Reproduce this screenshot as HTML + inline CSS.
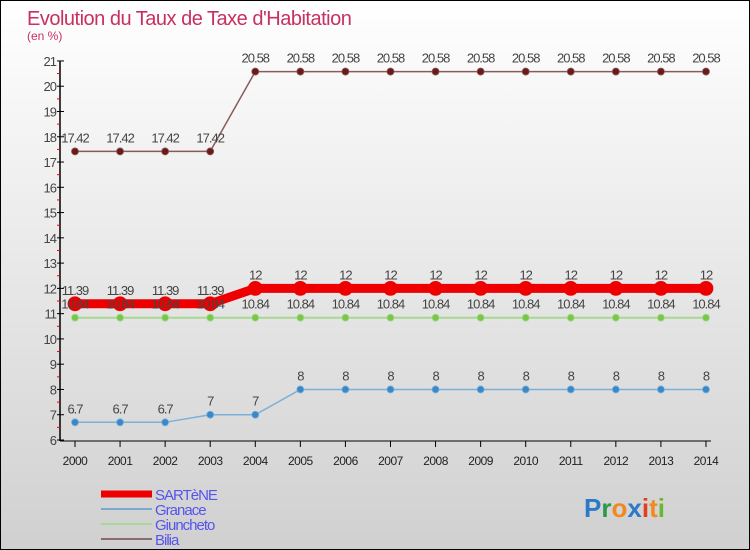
<!DOCTYPE html>
<html><head><meta charset="utf-8"><style>
html,body{margin:0;padding:0}
body{width:750px;height:550px;overflow:hidden;font-family:"Liberation Sans","DejaVu Sans",sans-serif}
#wrap{position:relative;width:748px;height:548px;border:1px solid #000;background:linear-gradient(#ffffff,#d0d0d0)}
</style></head><body>
<div id="wrap">
<svg id="chart" width="748" height="548" style="position:absolute;left:0;top:0"></svg>
</div>
<script>
const years=["2000","2001","2002","2003","2004","2005","2006","2007","2008","2009","2010","2011","2012","2013","2014"];
const sartene=[11.39,11.39,11.39,11.39,12,12,12,12,12,12,12,12,12,12,12];
const granace=[6.7,6.7,6.7,7,7,8,8,8,8,8,8,8,8,8,8];
const giuncheto=[10.84,10.84,10.84,10.84,10.84,10.84,10.84,10.84,10.84,10.84,10.84,10.84,10.84,10.84,10.84];
const bilia=[17.42,17.42,17.42,17.42,20.58,20.58,20.58,20.58,20.58,20.58,20.58,20.58,20.58,20.58,20.58];
const yTicks=[6,7,8,9,10,11,12,13,14,15,16,17,18,19,20,21];
const labels=["11.39","11.39","11.39","11.39","12","12","12","12","12","12","12","12","12","12","12"];
const NS="http://www.w3.org/2000/svg";
const svg=document.getElementById('chart');
function x(i){return 74+i*45.07;}
function y(v){return 439-(v-6)*25.27;}
function el(t,a,p){const e=document.createElementNS(NS,t);for(const k in a)e.setAttribute(k,a[k]);(p||svg).appendChild(e);return e;}
function txt(s,a){const e=el('text',a);e.textContent=s;return e;}
let t=txt("Evolution du Taux de Taxe d'Habitation",{x:26,y:24,'font-size':20,fill:'#c8305f','letter-spacing':'-0.5'});

t=txt("(en %)",{x:26,y:39,'font-size':12,fill:'#c8305f'});

let a=el('line',{x1:59,y1:60,x2:59,y2:440,stroke:'#000','stroke-width':1.5});

a=el('line',{x1:59,y1:440,x2:710,y2:440,stroke:'#000','stroke-width':1});

yTicks.forEach(v=>{
 el('line',{x1:56,y1:y(v),x2:63,y2:y(v),stroke:'#000'});
 if(v<21)el('line',{x1:56,y1:y(v+0.5),x2:59,y2:y(v+0.5),stroke:'#e00'});
 const l=txt(v,{x:55,y:y(v)+5,'font-size':13,fill:'#444','text-anchor':'end','letter-spacing':'-1'});
 
});
years.forEach((yr,i)=>{
 el('line',{x1:x(i),y1:440,x2:x(i),y2:446,stroke:'#000'});
 const l=txt(yr,{x:x(i),y:464,'font-size':12,fill:'#222','text-anchor':'middle','letter-spacing':'-0.5'});
 
});
function series(data,color,dot,w,r,name,labs){
 const g=el('g',{});
 
 const p=el('polyline',{points:data.map((v,i)=>x(i)+','+y(v)).join(' '),fill:'none',stroke:color,'stroke-width':w},g);
 
 data.forEach((v,i)=>{
  const c=el('circle',{cx:x(i),cy:y(v),r:r,fill:dot,stroke:color,'stroke-width':0.8},g);
  
 });
 return g;
}
function vlabels(data,name,labs){
 data.forEach((v,i)=>{
  const l=txt(labs?labs[i]:String(v),{x:x(i),y:y(v)-9,'font-size':13,fill:'#444','text-anchor':'middle','letter-spacing':'-1'});
  
 });
}
series(bilia,'#8a5a5a','#6b1a1a',1.5,3.5,'bilia');
series(granace,'#7ab0d8','#3a88c8',1.5,3.5,'granace');
series(giuncheto,'#a8d890','#78c848',2,3.5,'giuncheto');
series(sartene,'#ee0000','#ee0000',9,7,'sartene');
vlabels(bilia,'bilia');vlabels(granace,'granace');vlabels(giuncheto,'giuncheto');vlabels(sartene,'sartene',labels);
const leg=[["SARTèNE",'#ee0000',7],["Granace",'#7aaad0',2],["Giuncheto",'#a8d890',2],["Bilia",'#8a6a6a',2]];
leg.forEach((d,i)=>{
 const yy=493+i*15;
 const g=el('g',{});
 el('line',{x1:100,y1:yy,x2:151,y2:yy,stroke:d[1],'stroke-width':d[2]},g);
 const l=el('text',{x:154,y:yy+6,'font-size':15,fill:'#5555ee','letter-spacing':'-1'},g);l.textContent=d[0];
});
const logo=el('text',{x:583,y:516,'font-size':26,'font-weight':'bold'});

[["P",'#2a7ac8'],["r",'#2a9a48'],["o",'#f08a20'],["x",'#2a7ac8'],["i",'#e04020'],["t",'#f08a20'],["i",'#6ab830']].forEach(c=>{const s=document.createElementNS(NS,'tspan');s.setAttribute('fill',c[1]);s.textContent=c[0];logo.appendChild(s);});
</script>
</body></html>
